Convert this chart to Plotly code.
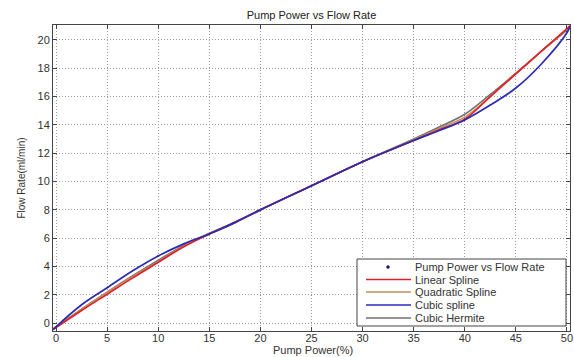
import plotly.graph_objects as go

# Sample positions along Pump Power (%)
pump_power = [-0.3, 2.5, 5, 7.5, 10, 12.5, 15, 17.5, 20, 25, 30, 35, 37.5, 40, 42.5, 45, 47.5, 50, 50.3]

# Flow rate (ml/min)
linear_spline = [-0.45, 0.9, 2.05, 3.2, 4.3, 5.4, 6.3, 7.1, 8.0, 9.7, 11.4, 12.9, 13.65, 14.4, 16.0, 17.6, 19.2, 20.8, 21.0]
quadratic_spline = [-0.4, 1.0, 2.2, 3.3, 4.35, 5.45, 6.3, 7.1, 8.0, 9.7, 11.4, 12.95, 13.75, 14.55, 16.0, 17.6, 19.2, 20.75, 20.95]
cubic_spline = [-0.45, 1.3, 2.5, 3.7, 4.75, 5.6, 6.3, 7.1, 8.0, 9.7, 11.4, 12.9, 13.6, 14.35, 15.4, 16.6, 18.3, 20.5, 20.95]
cubic_hermite = [-0.4, 1.0, 2.2, 3.35, 4.45, 5.5, 6.35, 7.15, 8.0, 9.7, 11.4, 13.0, 13.85, 14.75, 16.15, 17.65, 19.2, 20.7, 20.95]

# Measured points
meas_power = [0, 10, 20, 30, 40, 50]
meas_flow = [-0.3, 4.75, 8.0, 11.4, 14.4, 20.6]

x_ticks = [0, 5, 10, 15, 20, 25, 30, 35, 40, 45, 50]
y_ticks = [0, 2, 4, 6, 8, 10, 12, 14, 16, 18, 20]

legend_names = ["Pump Power vs Flow Rate", "Linear Spline", "Quadratic Spline", "Cubic spline", "Cubic Hermite"]
legend_colors = ["#1a1a6e", "#e0202a", "#c0905a", "#2a2ab4", "#707070"]

FONT = "Liberation Sans, Arial, sans-serif"
W, H = 574, 357
ML, MR, MT, MB = 53, 4, 25, 26

fig = go.Figure()

fig.add_trace(go.Scatter(x=meas_power, y=meas_flow, mode="markers", name=legend_names[0],
                         marker=dict(symbol="circle", size=2, color="#1a1a6e")))
fig.add_trace(go.Scatter(x=pump_power, y=cubic_hermite, mode="lines", name=legend_names[4],
                         line=dict(color=legend_colors[4], width=1.5, shape="spline")))
fig.add_trace(go.Scatter(x=pump_power, y=quadratic_spline, mode="lines", name=legend_names[2],
                         line=dict(color=legend_colors[2], width=1.5, shape="spline")))
fig.add_trace(go.Scatter(x=pump_power, y=linear_spline, mode="lines", name=legend_names[1],
                         line=dict(color=legend_colors[1], width=1.7, shape="spline")))
fig.add_trace(go.Scatter(x=pump_power, y=cubic_spline, mode="lines", name=legend_names[3],
                         line=dict(color=legend_colors[3], width=1.7, shape="spline")))

axis_common = dict(
    showline=True, linecolor="#444444", linewidth=1, mirror="ticks",
    ticks="inside", ticklen=4, tickcolor="#444444",
    showgrid=True, gridcolor="#9a9a9a", griddash="1px,2px", gridwidth=1,
    zeroline=False, automargin=False,
    tickfont=dict(family=FONT, size=11, color="#333333"),
)

# Hand-drawn legend box (Plotly's native legend rows are too tall for this layout)
pw = W - ML - MR
ph = H - MT - MB
def px_x(p):
    return (p - ML) / pw
def px_y(p):
    return (H - MB - p) / ph

shapes = [dict(type="rect", xref="paper", yref="paper",
               x0=px_x(357), x1=px_x(566), y0=px_y(326), y1=px_y(259),
               line=dict(color="#444444", width=1), fillcolor="white", layer="above")]
annotations = []
row_y = [267, 279.5, 292, 305, 318]
for i, (name, col) in enumerate(zip(legend_names, legend_colors)):
    yy = px_y(row_y[i])
    if i == 0:
        shapes.append(dict(type="circle", xref="paper", yref="paper", xsizemode="pixel", ysizemode="pixel",
                           xanchor=px_x(388), yanchor=yy, x0=-1.5, x1=1.5, y0=-1.5, y1=1.5,
                           fillcolor=col, line=dict(color=col, width=0.5), layer="above"))
    else:
        shapes.append(dict(type="line", xref="paper", yref="paper",
                           x0=px_x(366), x1=px_x(411), y0=yy, y1=yy,
                           line=dict(color=col, width=1.6), layer="above"))
    annotations.append(dict(text=name, xref="paper", yref="paper", x=px_x(413), y=yy,
                            xanchor="left", yanchor="middle", showarrow=False,
                            font=dict(family=FONT, size=11, color="#333333")))

# X axis title placed below tick labels
annotations.append(dict(text="Pump Power(%)", xref="paper", yref="paper", x=px_x(313), y=px_y(350),
                        xanchor="center", yanchor="middle", showarrow=False,
                        font=dict(family=FONT, size=11, color="#333333")))

fig.update_layout(
    width=W, height=H,
    margin=dict(l=ML, r=MR, t=MT, b=MB),
    paper_bgcolor="white", plot_bgcolor="white",
    title=dict(text="Pump Power vs Flow Rate", x=(ML + pw / 2) / W, xanchor="center",
               y=(H - 15) / H, yanchor="middle",
               font=dict(family=FONT, size=11, color="#222222")),
    xaxis=dict(range=[-0.3, 50.3], tickvals=x_ticks, ticklabelstandoff=-3, **axis_common),
    yaxis=dict(range=[-0.55, 21.05], tickvals=y_ticks,
               title=dict(text="Flow Rate(ml/min)", font=dict(family=FONT, size=10, color="#333333"), standoff=10),
               **axis_common),
    showlegend=False,
    hovermode=False,
    shapes=shapes,
    annotations=annotations,
)

fig.write_html("out.html", config={"displayModeBar": False},
               post_script="document.body.style.margin='0';document.body.style.padding='0';")
